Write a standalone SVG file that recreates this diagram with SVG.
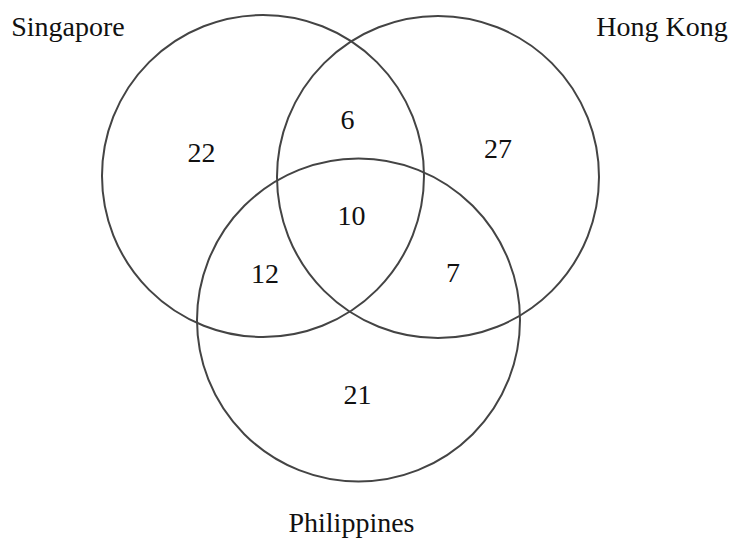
<svg xmlns="http://www.w3.org/2000/svg" width="730" height="538" viewBox="0 0 730 538">
<style>
.c{fill:none;stroke:#444;stroke-width:2}
.t{font-family:"Liberation Serif","Times New Roman",serif;font-size:28px;fill:#111;text-anchor:middle}
</style>
<rect width="730" height="538" fill="#fff"/>
<g id="singapore"><circle class="c" cx="263" cy="176" r="161"/><text class="t" x="68" y="36">Singapore</text></g>
<g id="hongkong"><circle class="c" cx="438" cy="177" r="161"/><text class="t" x="662" y="36">Hong Kong</text></g>
<g id="philippines"><circle class="c" cx="358.5" cy="320" r="161.5"/><text class="t" x="351.5" y="532">Philippines</text></g>
<g id="regions">
<text class="t" x="201.5" y="162">22</text>
<text class="t" x="347.5" y="129">6</text>
<text class="t" x="498" y="158">27</text>
<text class="t" x="351.5" y="225">10</text>
<text class="t" x="265" y="283">12</text>
<text class="t" x="453" y="282">7</text>
<text class="t" x="357.5" y="404">21</text>
</g>
</svg>
